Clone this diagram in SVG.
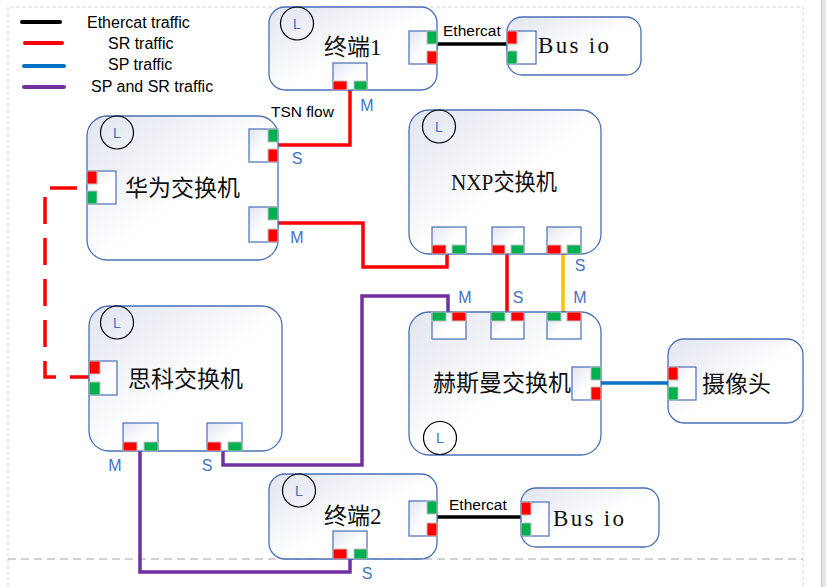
<svg xmlns="http://www.w3.org/2000/svg" width="826" height="587" viewBox="0 0 826 587">
<defs>
<linearGradient id="ng" x1="0" y1="0" x2="1" y2="1">
<stop offset="0" stop-color="#E2E5F0"/>
<stop offset="0.55" stop-color="#FFFFFF"/>
<stop offset="1" stop-color="#FFFFFF"/>
</linearGradient>
<style>
.node{fill:url(#ng);stroke:#4A6FB8;stroke-width:1.3}
.pb{fill:url(#ng);stroke:#4A6FB8;stroke-width:1.2}
.r{fill:#FF0000;stroke:#C0C0C0;stroke-width:1}
.g{fill:#00B050;stroke:#C0C0C0;stroke-width:1}
.lc{fill:none;stroke:#000;stroke-width:1.2}
.lt{font-family:"Liberation Sans",Arial,sans-serif;font-size:14px;fill:#4472C4;text-anchor:middle}
.cj{font-family:"Liberation Serif","Noto Sans CJK SC",serif;font-size:23px;fill:#111}
.lab{font-family:"Liberation Sans",Arial,sans-serif;font-size:16px;fill:#4472C4;text-anchor:middle}
.txt{font-family:"Liberation Sans",Arial,sans-serif;font-size:16px;fill:#000}
.ct{font-family:"Liberation Sans",Arial,sans-serif;font-size:15.5px;fill:#000}
.w{fill:none;stroke-width:3.5;stroke-linejoin:miter}
</style>
</defs>
<rect width="826" height="587" fill="#FFFFFF"/>
<g id="frame">
<path d="M8,587 V7 H803 V587" fill="none" stroke="#D9D9D9" stroke-width="1" stroke-dasharray="4 2"/>
<line x1="8" y1="559" x2="803" y2="559" stroke="#A6A6A6" stroke-width="1.2" stroke-dasharray="8 5"/>
<rect x="821" y="0" width="5" height="587" fill="#E6E6E6"/>
<line x1="821.5" y1="0" x2="821.5" y2="587" stroke="#C8C8C8" stroke-width="1"/>
</g>
<g id="legend">
<line x1="22" y1="22" x2="60" y2="22" stroke="#000" stroke-width="4" stroke-linecap="round"/>
<line x1="25" y1="43" x2="62" y2="43" stroke="#FF0000" stroke-width="4" stroke-linecap="round"/>
<line x1="24" y1="66" x2="64" y2="66" stroke="#0070C0" stroke-width="4" stroke-linecap="round"/>
<line x1="24" y1="87" x2="64" y2="87" stroke="#7030A0" stroke-width="4" stroke-linecap="round"/>
<text class="txt" x="87" y="28">Ethercat traffic</text>
<text class="txt" x="108" y="49">SR traffic</text>
<text class="txt" x="108" y="70">SP traffic</text>
<text class="txt" x="91" y="92">SP and SR traffic</text>
</g>
<g id="connectors">
<line x1="431" y1="44" x2="508" y2="44" stroke="#000" stroke-width="3.5"/>
<line x1="430" y1="517" x2="522" y2="517" stroke="#000" stroke-width="3.5"/>
<path class="w" d="M350,90 V145 H277" stroke="#FF0000"/>
<path class="w" d="M277,223 H363 V267 H447 V254" stroke="#FF0000"/>
<path class="w" d="M77,188 H45 V377 H96" stroke="#FF0000" stroke-dasharray="27 14"/>
<line x1="507" y1="254" x2="507" y2="312" stroke="#FF0000" stroke-width="3.5"/>
<line x1="563" y1="254" x2="563" y2="312" stroke="#FFC000" stroke-width="3.5"/>
<line x1="598" y1="383" x2="668" y2="383" stroke="#0070C0" stroke-width="3.5"/>
<path class="w" d="M223,451 V465 H362 V296 H448 V312" stroke="#7030A0"/>
<path class="w" d="M140,451 V572 H350 V559" stroke="#7030A0"/>
<text class="ct" x="443" y="36">Ethercat</text>
<text class="ct" x="449" y="510">Ethercat</text>
<text class="ct" x="271" y="117">TSN flow</text>
</g>
<g id="terminal1">
<rect class="node" x="269" y="7" width="168" height="83" rx="16"/>
<circle class="lc" cx="297" cy="23.5" r="16.5"/>
<text class="lt" x="297" y="28.5">L</text>
<text class="cj" x="324" y="55">终端1</text>
<rect class="pb" x="409" y="31" width="28" height="33"/>
<rect class="g" x="427" y="31" width="10" height="13"/>
<rect class="r" x="427" y="51" width="10" height="13"/>
<rect class="pb" x="333" y="63" width="34" height="27"/>
<rect class="r" x="333" y="81" width="14" height="9"/>
<rect class="g" x="354" y="81" width="13" height="9"/>
<text class="lab" x="367" y="111">M</text>
</g>
<g id="busio1">
<rect class="node" x="507" y="17" width="134" height="58" rx="15"/>
<rect class="pb" x="507" y="31" width="29" height="33"/>
<rect class="r" x="507" y="31" width="10" height="13"/>
<rect class="g" x="507" y="51" width="10" height="13"/>
<text class="cj" x="538" y="53" font-size="24" textLength="71" lengthAdjust="spacing">Bus io</text>
</g>
<g id="huawei">
<rect class="node" x="87" y="116" width="191" height="144" rx="20"/>
<circle class="lc" cx="117" cy="132.5" r="16.5"/>
<text class="lt" x="117" y="137.5">L</text>
<text class="cj" x="125" y="196">华为交换机</text>
<rect class="pb" x="87" y="171" width="29" height="33"/>
<rect class="r" x="87" y="171" width="10" height="13"/>
<rect class="g" x="87" y="191" width="10" height="13"/>
<rect class="pb" x="249" y="129" width="29" height="33"/>
<rect class="g" x="268" y="129" width="10" height="13"/>
<rect class="r" x="268" y="149" width="10" height="13"/>
<rect class="pb" x="249" y="207" width="29" height="35"/>
<rect class="g" x="268" y="207" width="10" height="13"/>
<rect class="r" x="268" y="229" width="10" height="13"/>
<text class="lab" x="297" y="164">S</text>
<text class="lab" x="297" y="243">M</text>
</g>
<g id="nxp">
<rect class="node" x="409" y="110" width="192" height="144" rx="20"/>
<circle class="lc" cx="439" cy="126.5" r="16.5"/>
<text class="lt" x="439" y="131.5">L</text>
<text class="cj" x="451" y="190" textLength="106" lengthAdjust="spacingAndGlyphs">NXP交换机</text>
<rect class="pb" x="432" y="227" width="34" height="27"/>
<rect class="r" x="432" y="245" width="14" height="9"/>
<rect class="g" x="452" y="245" width="14" height="9"/>
<rect class="pb" x="492" y="227" width="32" height="27"/>
<rect class="r" x="492" y="245" width="13" height="9"/>
<rect class="g" x="511" y="245" width="13" height="9"/>
<rect class="pb" x="547" y="227" width="34" height="27"/>
<rect class="r" x="547" y="245" width="14" height="9"/>
<rect class="g" x="567" y="245" width="14" height="9"/>
<text class="lab" x="580" y="271">S</text>
</g>
<g id="hirschmann">
<rect class="node" x="409" y="312" width="192" height="143" rx="20"/>
<circle class="lc" cx="440" cy="438" r="16.5"/>
<text class="lt" x="440" y="443">L</text>
<text class="cj" x="433" y="391">赫斯曼交换机</text>
<rect class="pb" x="432" y="312" width="34" height="27"/>
<rect class="g" x="432" y="312" width="14" height="9"/>
<rect class="r" x="452" y="312" width="14" height="9"/>
<rect class="pb" x="491" y="312" width="33" height="27"/>
<rect class="g" x="491" y="312" width="14" height="9"/>
<rect class="r" x="511" y="312" width="13" height="9"/>
<rect class="pb" x="547" y="312" width="34" height="27"/>
<rect class="g" x="547" y="312" width="14" height="9"/>
<rect class="r" x="567" y="312" width="14" height="9"/>
<rect class="pb" x="572" y="367" width="29" height="33"/>
<rect class="g" x="591" y="367" width="10" height="13"/>
<rect class="r" x="591" y="387" width="10" height="13"/>
<text class="lab" x="465" y="303">M</text>
<text class="lab" x="518" y="303">S</text>
<text class="lab" x="580" y="303">M</text>
</g>
<g id="camera">
<rect class="node" x="668" y="339" width="135" height="84" rx="16"/>
<rect class="pb" x="668" y="367" width="28" height="33"/>
<rect class="r" x="668" y="367" width="10" height="13"/>
<rect class="g" x="668" y="387" width="10" height="13"/>
<text class="cj" x="702" y="392">摄像头</text>
</g>
<g id="cisco">
<rect class="node" x="89" y="306" width="193" height="145" rx="20"/>
<circle class="lc" cx="117" cy="322.5" r="16.5"/>
<text class="lt" x="117" y="327.5">L</text>
<text class="cj" x="128" y="387">思科交换机</text>
<rect class="pb" x="89" y="361" width="28" height="34"/>
<rect class="r" x="89" y="361" width="11" height="13"/>
<rect class="g" x="89" y="382" width="11" height="13"/>
<rect class="pb" x="123" y="423" width="35" height="28"/>
<rect class="r" x="123" y="442" width="14" height="9"/>
<rect class="g" x="144" y="442" width="14" height="9"/>
<rect class="pb" x="207" y="423" width="35" height="28"/>
<rect class="r" x="207" y="442" width="14" height="9"/>
<rect class="g" x="228" y="442" width="14" height="9"/>
<text class="lab" x="115" y="471">M</text>
<text class="lab" x="207" y="471">S</text>
</g>
<g id="terminal2">
<rect class="node" x="269" y="474" width="168" height="85" rx="16"/>
<circle class="lc" cx="299" cy="490.5" r="16.5"/>
<text class="lt" x="299" y="495.5">L</text>
<text class="cj" x="324" y="524">终端2</text>
<rect class="pb" x="409" y="501" width="28" height="35"/>
<rect class="g" x="427" y="501" width="10" height="13"/>
<rect class="r" x="427" y="523" width="10" height="13"/>
<rect class="pb" x="333" y="531" width="34" height="28"/>
<rect class="r" x="333" y="549" width="14" height="10"/>
<rect class="g" x="354" y="549" width="13" height="10"/>
<text class="lab" x="367" y="579">S</text>
</g>
<g id="busio2">
<rect class="node" x="521" y="488" width="138" height="59" rx="15"/>
<rect class="pb" x="521" y="502" width="28" height="34"/>
<rect class="r" x="521" y="502" width="10" height="13"/>
<rect class="g" x="521" y="523" width="10" height="13"/>
<text class="cj" x="553" y="526" font-size="24" textLength="71" lengthAdjust="spacing">Bus io</text>
</g>
</svg>
